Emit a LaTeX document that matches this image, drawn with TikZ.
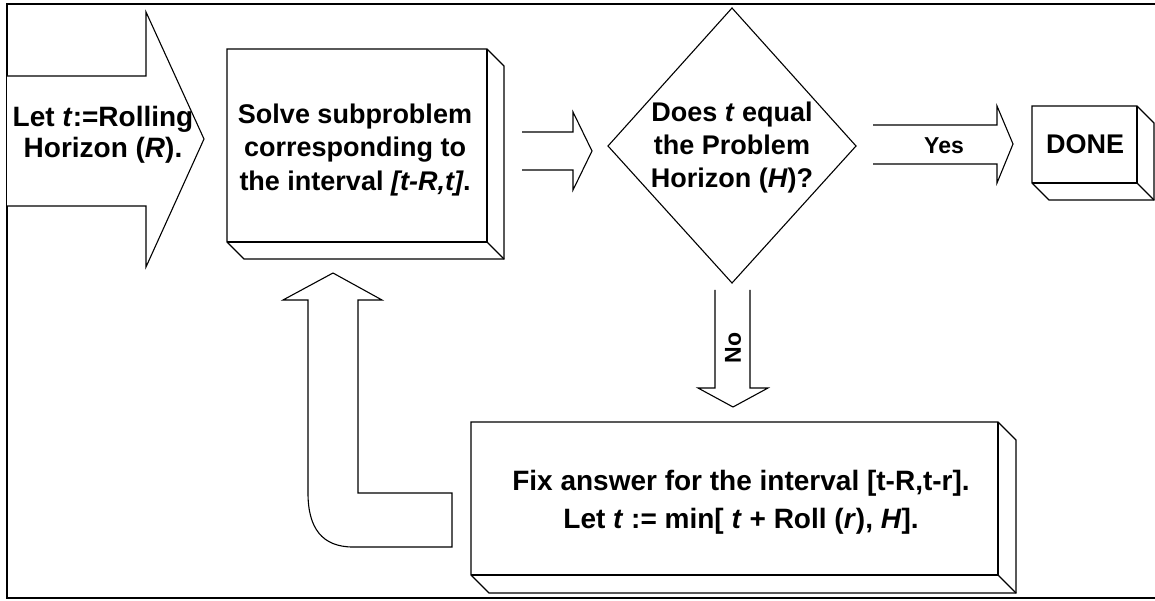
\documentclass[tikz,border=0pt]{standalone}
\usepackage{fontspec}
\setmainfont{Liberation Sans}
\usetikzlibrary{calc}
\tikzset{
  shp/.style={draw=black, line width=1.1pt, line join=miter, fill=white},
  edg/.style={draw=black, line width=1.1pt},
  lbl/.style={align=center, inner sep=0pt},
}
\newcommand\fsz[2]{\fontsize{#1}{#2}\selectfont\bfseries}
\newcommand\bevbox[5]{% x1 y1 x2 y2 depth
  \draw[shp] (#1,#2) -- (#3,#2) -- ($(#3,#2)+(#5,#5)$) -- ($(#3,#4)+(#5,#5)$) -- ($(#1,#4)+(#5,#5)$) -- (#1,#4) -- cycle;
  \draw[edg] (#3,#2) -- (#3,#4) -- (#1,#4);
  \draw[edg] (#3,#4) -- ($(#3,#4)+(#5,#5)$);
}
\begin{document}
\begin{tikzpicture}[x=1pt,y=-1pt]
\useasboundingbox (0,0) rectangle (1155,601);
% outer frame
\draw[line width=1.4pt] (1162,4) -- (7,4) -- (7,598) -- (1162,598);

% start arrow
\draw[shp] (7,76) -- (146,76) -- (146,12) -- (204,139) -- (146,267) -- (146,206) -- (7,206);
\node[lbl, font=\fsz{28}{31}] (start) at (103,135) {Let \textit{t}:=Rolling\\Horizon (\textit{R}).};

% solve box
\bevbox{227}{49}{487}{242}{17}
\node[lbl, font=\fsz{27}{33.5}] (solve) at (355,150) {Solve subproblem\\corresponding to\\the interval \textit{[t-R,t]}.};

% arrow solve -> decision
\draw[shp] (522,132) -- (573,132) -- (573,112) -- (592,151) -- (573,190) -- (573,170) -- (522,170);

% decision diamond
\draw[shp] (732,8) coordinate (dt) -- (856,146) coordinate (dr) -- (732,283) coordinate (db) -- (608,146) coordinate (dl) -- cycle;
\node[lbl, font=\fsz{27}{33}] (decide) at (732,148) {Does \textit{t} equal\\the Problem\\Horizon (\textit{H})?};

% yes arrow
\draw[shp] (873,125) -- (997,125) -- (997,106) -- (1013,144) -- (997,183) -- (997,164) -- (873,164);
\node[lbl, font=\fsz{23}{27}] (yes) at (944,146) {Yes};

% done box
\bevbox{1032}{106}{1137}{183}{17}
\node[lbl, font=\fsz{27}{32}] (done) at (1085,144) {DONE};

% no arrow
\draw[shp] (715,290) -- (715,388) -- (698,388) -- (733,407) -- (768,388) -- (750,388) -- (750,290);
\node[lbl, font=\fsz{23}{27}, rotate=90] (no) at (733,348) {No};

% update box
\bevbox{471}{422}{998}{575}{18}
\node[lbl, font=\fsz{28}{38}] (update) at (741,502) {Fix answer for the interval [t-R,t-r].\\Let \textit{t} := min[ \textit{t} + Roll (\textit{r}), \textit{H}].};

% loop-back arrow
\draw[shp] (333,273) -- (382,300) -- (358,300) -- (358,493) -- (452,493) -- (452,547) -- (353,547)
  .. controls (322,547) and (308,528) .. (308,493) -- (308,300) -- (283,300) -- cycle;
\end{tikzpicture}
\end{document}
